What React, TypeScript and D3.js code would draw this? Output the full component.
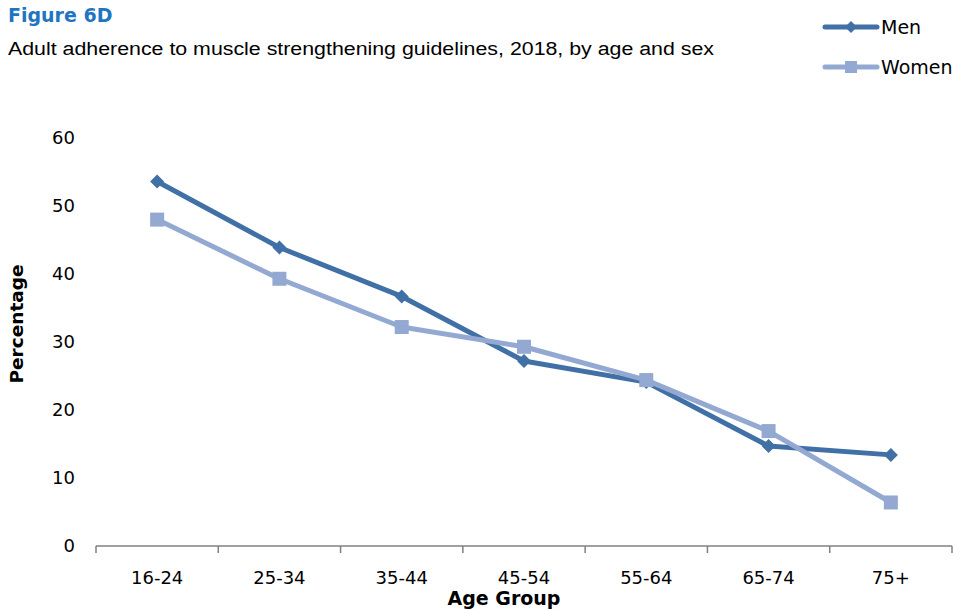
import React from "react";
import * as d3 from "d3";

const categories = ["16-24", "25-34", "35-44", "45-54", "55-64", "65-74", "75+"];
const menValues = [53.6, 43.9, 36.7, 27.2, 24.1, 14.7, 13.4];
const womenValues = [48.0, 39.3, 32.2, 29.3, 24.4, 16.9, 6.4];
const yTicks = [0, 10, 20, 30, 40, 50, 60];

const W = 955;
const H = 609;
const left = 96;
const right = 952;
const top = 138;
const bottom = 546;

const MEN = "#4170a7";
const WOMEN = "#93a9d2";
const TICKFONT = "'DejaVu Sans', Verdana, sans-serif";

export default function App() {
  const x = d3.scaleBand<string>().domain(categories).range([left, right]);
  const y = d3.scaleLinear().domain([0, 60]).range([bottom, top]);
  const cx = (c: string) => (x(c) as number) + x.bandwidth() / 2;
  const line = d3
    .line<number>()
    .x((_, i) => cx(categories[i]))
    .y((d) => y(d));
  const boundaries = [...categories.map((c) => x(c) as number), right];
  const diamond = (px: number, py: number, r: number) =>
    `M${px},${py - r}L${px + r},${py}L${px},${py + r}L${px - r},${py}Z`;

  return (
    <svg width={W} height={H} style={{ position: "absolute", left: 0, top: 0 }}>
      <rect width={W} height={H} fill="#fff" />
      <text x={8} y={22} fontFamily={TICKFONT} fontWeight="bold" fontSize={19} fill="#1f75c1">
        Figure 6D
      </text>
      <text
        x={8}
        y={55}
        fontFamily="'Liberation Sans', Arial, sans-serif"
        fontSize={18}
        fill="#000"
        textLength={706}
        lengthAdjust="spacingAndGlyphs"
      >
        Adult adherence to muscle strengthening guidelines, 2018, by age and sex
      </text>

      {/* legend */}
      <g>
        <line x1={825} x2={877} y1={27} y2={27} stroke={MEN} strokeWidth={5} strokeLinecap="round" />
        <path d={diamond(851, 27, 6)} fill={MEN} />
        <text x={881} y={34} fontFamily={TICKFONT} fontSize={19} fill="#000">Men</text>
        <line x1={825} x2={877} y1={67} y2={67} stroke={WOMEN} strokeWidth={5} strokeLinecap="round" />
        <rect x={845} y={61} width={12} height={12} fill={WOMEN} />
        <text x={881} y={74} fontFamily={TICKFONT} fontSize={19} fill="#000">Women</text>
      </g>

      {/* y tick labels */}
      {yTicks.map((t) => (
        <text key={t} x={75} y={y(t) + 6} textAnchor="end" fontFamily={TICKFONT} fontSize={18} fill="#000">
          {t}
        </text>
      ))}

      {/* x axis */}
      <line x1={left} x2={right} y1={bottom} y2={bottom} stroke="#808080" strokeWidth={1.5} />
      {boundaries.map((b, i) => (
        <line key={i} x1={b} x2={b} y1={bottom} y2={bottom + 7} stroke="#808080" strokeWidth={1.5} />
      ))}
      {categories.map((c) => (
        <text key={c} x={cx(c)} y={584} textAnchor="middle" fontFamily={TICKFONT} fontSize={18} fill="#000">
          {c}
        </text>
      ))}
      <text x={504} y={605} textAnchor="middle" fontFamily={TICKFONT} fontWeight="bold" fontSize={19} fill="#000">
        Age Group
      </text>
      <text
        transform={`translate(23,324) rotate(-90)`}
        textAnchor="middle"
        fontFamily={TICKFONT}
        fontWeight="bold"
        fontSize={18.5}
        fill="#000"
      >
        Percentage
      </text>

      {/* series */}
      <path d={line(menValues) as string} fill="none" stroke={MEN} strokeWidth={5} strokeLinejoin="round" />
      {menValues.map((v, i) => (
        <path key={i} d={diamond(cx(categories[i]), y(v), 7)} fill={MEN} />
      ))}
      <path d={line(womenValues) as string} fill="none" stroke={WOMEN} strokeWidth={5} strokeLinejoin="round" />
      {womenValues.map((v, i) => (
        <rect key={i} x={cx(categories[i]) - 7} y={y(v) - 7} width={14} height={14} fill={WOMEN} />
      ))}
    </svg>
  );
}
